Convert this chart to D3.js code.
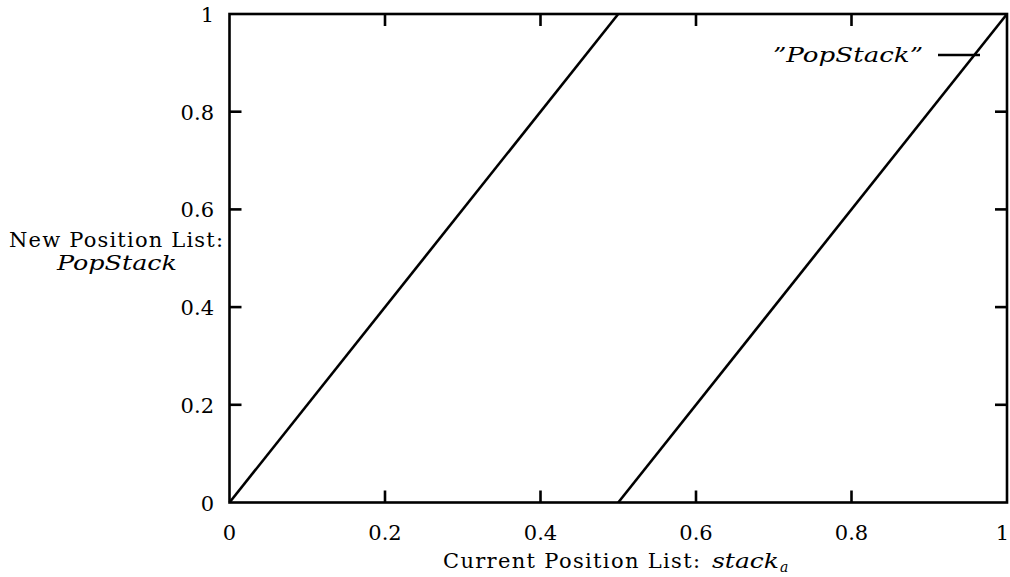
<!DOCTYPE html>
<html><head><meta charset="utf-8">
<script src="https://cdn.jsdelivr.net/npm/d3@7"></script>
<style>
html,body{margin:0;padding:0;background:#fff;}
text{font-family:"DejaVu Serif","Liberation Serif",serif;fill:#000;}
</style></head>
<body><svg id="c" width="1010" height="577"></svg>
<script>
// Data
const seriesName = "PopStack";
const segment1X = [0, 0.5];
const segment1Y = [0, 1];
const segment2X = [0.5, 1];
const segment2Y = [0, 1];
const xTicks = [0, 0.2, 0.4, 0.6, 0.8, 1];
const yTicks = [0, 0.2, 0.4, 0.6, 0.8, 1];
const xTickLabels = ["0", "0.2", "0.4", "0.6", "0.8", "1"];
const yTickLabels = ["0", "0.2", "0.4", "0.6", "0.8", "1"];

const svg = d3.select("#c");
const L = 229.5, R = 1007, T = 14, B = 502.5;
const x = d3.scaleLinear().domain([0, 1]).range([L, R]);
const y = d3.scaleLinear().domain([0, 1]).range([B, T]);
const fs = 21;
const sw = 2.6;

// frame
svg.append("rect").attr("x", L).attr("y", T).attr("width", R - L).attr("height", B - T)
  .attr("fill", "none").attr("stroke", "#000").attr("stroke-width", sw);

const tl = 12;
xTicks.forEach((v, i) => {
  if (v > 0 && v < 1) {
    svg.append("line").attr("x1", x(v)).attr("x2", x(v)).attr("y1", B).attr("y2", B - tl).attr("stroke", "#000").attr("stroke-width", sw);
    svg.append("line").attr("x1", x(v)).attr("x2", x(v)).attr("y1", T).attr("y2", T + tl).attr("stroke", "#000").attr("stroke-width", sw);
  }
  const last = i === xTicks.length - 1;
  svg.append("text").attr("x", last ? 1009 : x(v)).attr("y", 540).attr("text-anchor", last ? "end" : "middle")
    .style("font-size", fs + "px").text(xTickLabels[i]);
});
yTicks.forEach((v, i) => {
  if (v > 0 && v < 1) {
    svg.append("line").attr("x1", L).attr("x2", L + tl).attr("y1", y(v)).attr("y2", y(v)).attr("stroke", "#000").attr("stroke-width", sw);
    svg.append("line").attr("x1", R).attr("x2", R - tl).attr("y1", y(v)).attr("y2", y(v)).attr("stroke", "#000").attr("stroke-width", sw);
  }
  svg.append("text").attr("x", 214).attr("y", y(v) + 8).attr("text-anchor", "end")
    .style("font-size", fs + "px").text(yTickLabels[i]);
});

// lines
const line = d3.line().x(d => x(d[0])).y(d => y(d[1]));
[[segment1X, segment1Y], [segment2X, segment2Y]].forEach(([xs, ys]) => {
  svg.append("path").datum(xs.map((v, i) => [v, ys[i]])).attr("d", line)
    .attr("fill", "none").attr("stroke", "#000").attr("stroke-width", sw);
});

// legend
svg.append("text").attr("x", 773).attr("y", 62).attr("textLength", 150).attr("lengthAdjust", "spacingAndGlyphs")
  .style("font-size", fs + "px").style("font-style", "italic").text("\u201D" + seriesName + "\u201D");
svg.append("line").attr("x1", 938).attr("x2", 980).attr("y1", 55).attr("y2", 55).attr("stroke", "#000").attr("stroke-width", sw);

// y label
svg.append("text").attr("x", 9).attr("y", 247).attr("textLength", 214).attr("lengthAdjust", "spacing")
  .style("font-size", fs + "px").text("New Position List:");
svg.append("text").attr("x", 57).attr("y", 270).attr("textLength", 120).attr("lengthAdjust", "spacingAndGlyphs")
  .style("font-size", fs + "px").style("font-style", "italic").text(seriesName);

// x label
svg.append("text").attr("x", 443).attr("y", 568).attr("textLength", 257).attr("lengthAdjust", "spacing")
  .style("font-size", fs + "px").text("Current Position List:");
svg.append("text").attr("x", 712).attr("y", 568).attr("textLength", 67).attr("lengthAdjust", "spacingAndGlyphs")
  .style("font-size", fs + "px").style("font-style", "italic").text("stack");
svg.append("text").attr("x", 780).attr("y", 572).style("font-size", "14px").style("font-style", "italic").text("a");
</script></body></html>
